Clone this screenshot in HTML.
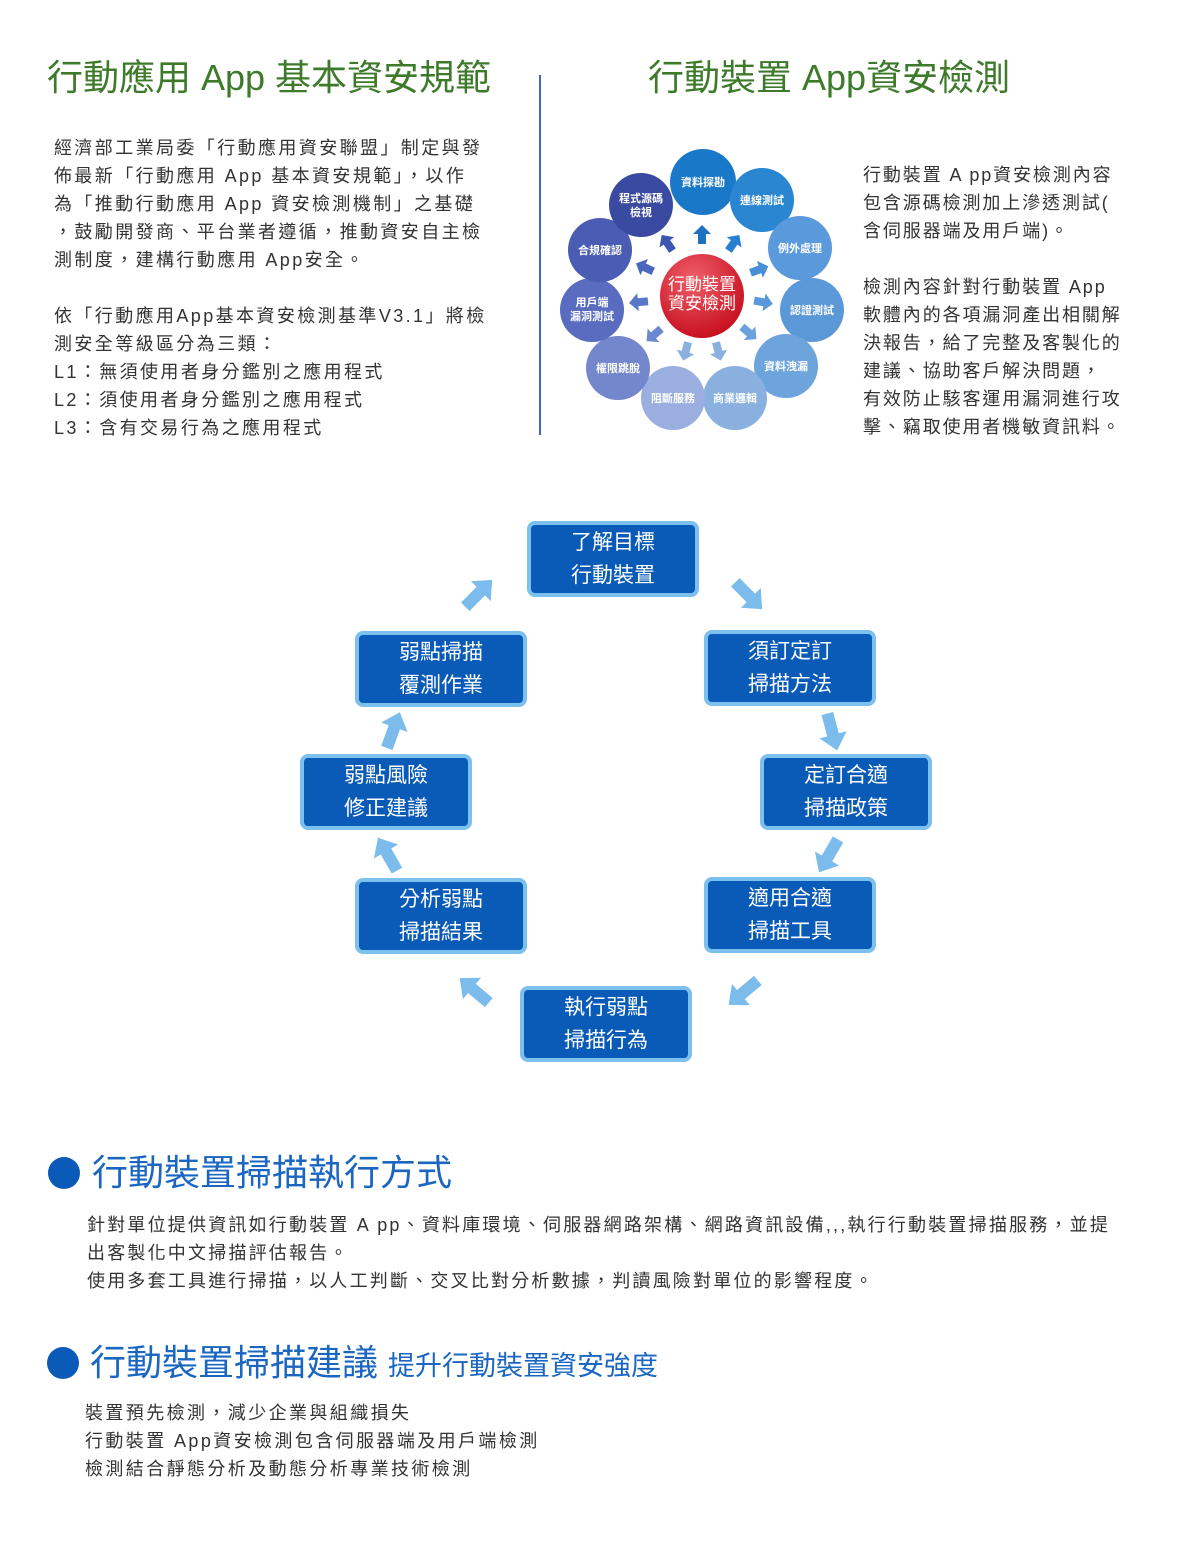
<!DOCTYPE html>
<html><head><meta charset="utf-8"><style>
body{margin:0;width:1190px;height:1566px;background:#fff;position:relative;font-family:"Liberation Sans","Noto Sans CJK TC",sans-serif;overflow:hidden}
.a{position:absolute;white-space:nowrap}
.t{font-size:36px;color:#3d7a2a;line-height:1}
.p{font-size:18px;color:#333;line-height:28px;letter-spacing:2.4px}
.box{position:absolute;width:164px;height:68px;background:#0a5bb8;border:4px solid #7cc0ee;border-radius:8px;color:#fff;font-size:21px;line-height:33px;text-align:center;display:flex;flex-direction:column;justify-content:center}
.h{font-size:36px;color:#1a66c0;line-height:1}
.dot{position:absolute;width:32px;height:32px;border-radius:50%;background:#0a5bb8}
</style></head><body>
<div class="a t" style="left:47px;top:60px">行動應用 App 基本資安規範</div>
<div class="a t" style="left:648px;top:60px">行動裝置 App資安檢測</div>
<div class="a" style="left:539px;top:75px;width:2px;height:360px;background:#3a6ab8"></div>
<div class="a p" style="left:54px;top:134px">經濟部工業局委「行動應用資安聯盟」制定與發<br>佈最新「行動應用 App 基本資安規範」，以作<br>為「推動行動應用 App 資安檢測機制」之基礎<br>，鼓勵開發商、平台業者遵循，推動資安自主檢<br>測制度，建構行動應用 App安全。</div>
<div class="a p" style="left:54px;top:302px">依「行動應用App基本資安檢測基準V3.1」將檢<br>測安全等級區分為三類：<br>L1：無須使用者身分鑑別之應用程式<br>L2：須使用者身分鑑別之應用程式<br>L3：含有交易行為之應用程式</div>
<div class="a p" style="left:863px;top:161px;letter-spacing:1.9px">行動裝置 A pp資安檢測內容<br>包含源碼檢測加上滲透測試(<br>含伺服器端及用戶端)。</div>
<div class="a p" style="left:863px;top:273px;letter-spacing:1.9px">檢測內容針對行動裝置 App<br>軟體內的各項漏洞產出相關解<br>決報告，給了完整及客製化的<br>建議、協助客戶解決問題，<br>有效防止駭客運用漏洞進行攻<br>擊、竊取使用者機敏資訊料。</div>

<svg class="a" style="left:0;top:0" width="1190" height="1566">
<defs>
<radialGradient id="r" cx="40%" cy="30%" r="70%"><stop offset="0" stop-color="#f0606a"/><stop offset="1" stop-color="#c81020"/></radialGradient>
<polygon id="ar" points="-18,-6 4,-6 4,-14 20,0 4,14 4,6 -18,6" fill="#7bbcec"/>
<polygon id="sa" points="-8,-4 2,-4 2,-9 11,0 2,9 2,4 -8,4"/>
</defs>
<g font-family="Liberation Sans,Noto Sans CJK TC,sans-serif" font-size="11" fill="#fff" text-anchor="middle" font-weight="bold">
<g fill="#4a70c0">
<use href="#sa" transform="translate(702,236) rotate(-90)" fill="#1e70c0"/>
<use href="#sa" transform="translate(733,244) rotate(-55)" fill="#2a80d0"/>
<use href="#sa" transform="translate(758,270) rotate(-20)" fill="#4a90d8"/>
<use href="#sa" transform="translate(762,302) rotate(10)" fill="#5a98dc"/>
<use href="#sa" transform="translate(748,332) rotate(40)" fill="#6aa0dc"/>
<use href="#sa" transform="translate(718,350) rotate(75)" fill="#8ab0e0"/>
<use href="#sa" transform="translate(686,350) rotate(105)" fill="#8ab0e0"/>
<use href="#sa" transform="translate(655,334) rotate(140)" fill="#6a88d0"/>
<use href="#sa" transform="translate(640,302) rotate(175)" fill="#5a78c8"/>
<use href="#sa" transform="translate(646,268) rotate(205)" fill="#4a68c0"/>
<use href="#sa" transform="translate(668,244) rotate(235)" fill="#3a58b0"/>
</g>
<circle cx="703" cy="182" r="33" fill="#1a78c8"/><text x="703" y="186">資料探勘</text>
<circle cx="762" cy="200" r="32" fill="#2a86d0"/><text x="762" y="204">連線測試</text>
<circle cx="800" cy="248" r="32" fill="#5a9adc"/><text x="800" y="252">例外處理</text>
<circle cx="812" cy="310" r="32" fill="#5a98d8"/><text x="812" y="314">認證測試</text>
<circle cx="786" cy="366" r="32" fill="#6ea4dc"/><text x="786" y="370">資料洩漏</text>
<circle cx="735" cy="398" r="32" fill="#8ab0e0"/><text x="735" y="402">商業邏輯</text>
<circle cx="673" cy="398" r="32" fill="#9aaee0"/><text x="673" y="402">阻斷服務</text>
<circle cx="618" cy="368" r="32" fill="#7486cc"/><text x="618" y="372">權限跳脫</text>
<circle cx="592" cy="310" r="32" fill="#5a6cc0"/><text x="592" y="306">用戶端</text><text x="592" y="320">漏洞測試</text>
<circle cx="600" cy="250" r="32" fill="#4a5cb4"/><text x="600" y="254">合規確認</text>
<circle cx="641" cy="205" r="32" fill="#3a4aa0"/><text x="641" y="202">程式源碼</text><text x="641" y="216">檢視</text>
<circle cx="702" cy="296" r="42" fill="url(#r)"/>
<text x="702" y="290" font-size="17" font-weight="normal">行動裝置</text>
<text x="702" y="309" font-size="17" font-weight="normal">資安檢測</text>
</g>
<use href="#ar" transform="translate(478,594) rotate(-45)"/>
<use href="#ar" transform="translate(748,595) rotate(45)"/>
<use href="#ar" transform="translate(832,731) rotate(75)"/>
<use href="#ar" transform="translate(829,855) rotate(120)"/>
<use href="#ar" transform="translate(744,992) rotate(140)"/>
<use href="#ar" transform="translate(475,991) rotate(-140)"/>
<use href="#ar" transform="translate(388,855) rotate(-120)"/>
<use href="#ar" transform="translate(393,731) rotate(-70)"/>
</svg>

<div class="box" style="left:527px;top:521px"><div>了解目標</div><div>行動裝置</div></div>
<div class="box" style="left:355px;top:631px"><div>弱點掃描</div><div>覆測作業</div></div>
<div class="box" style="left:704px;top:630px"><div>須訂定訂</div><div>掃描方法</div></div>
<div class="box" style="left:300px;top:754px"><div>弱點風險</div><div>修正建議</div></div>
<div class="box" style="left:760px;top:754px"><div>定訂合適</div><div>掃描政策</div></div>
<div class="box" style="left:355px;top:878px"><div>分析弱點</div><div>掃描結果</div></div>
<div class="box" style="left:704px;top:877px"><div>適用合適</div><div>掃描工具</div></div>
<div class="box" style="left:520px;top:986px"><div>執行弱點</div><div>掃描行為</div></div>

<div class="dot" style="left:48px;top:1157px"></div>
<div class="a h" style="left:92px;top:1155px">行動裝置掃描執行方式</div>
<div class="a p" style="left:87px;top:1211px;letter-spacing:2.2px">針對單位提供資訊如行動裝置 A pp、資料庫環境、伺服器網路架構、網路資訊設備,,,執行行動裝置掃描服務，並提<br>出客製化中文掃描評估報告。<br>使用多套工具進行掃描，以人工判斷、交叉比對分析數據，判讀風險對單位的影響程度。</div>
<div class="dot" style="left:47px;top:1347px"></div>
<div class="a h" style="left:90px;top:1345px">行動裝置掃描建議 <span style="font-size:27px">提升行動裝置資安強度</span></div>
<div class="a p" style="left:85px;top:1399px">裝置預先檢測，減少企業與組織損失<br>行動裝置 App資安檢測包含伺服器端及用戶端檢測<br>檢測結合靜態分析及動態分析專業技術檢測</div>
</body></html>
